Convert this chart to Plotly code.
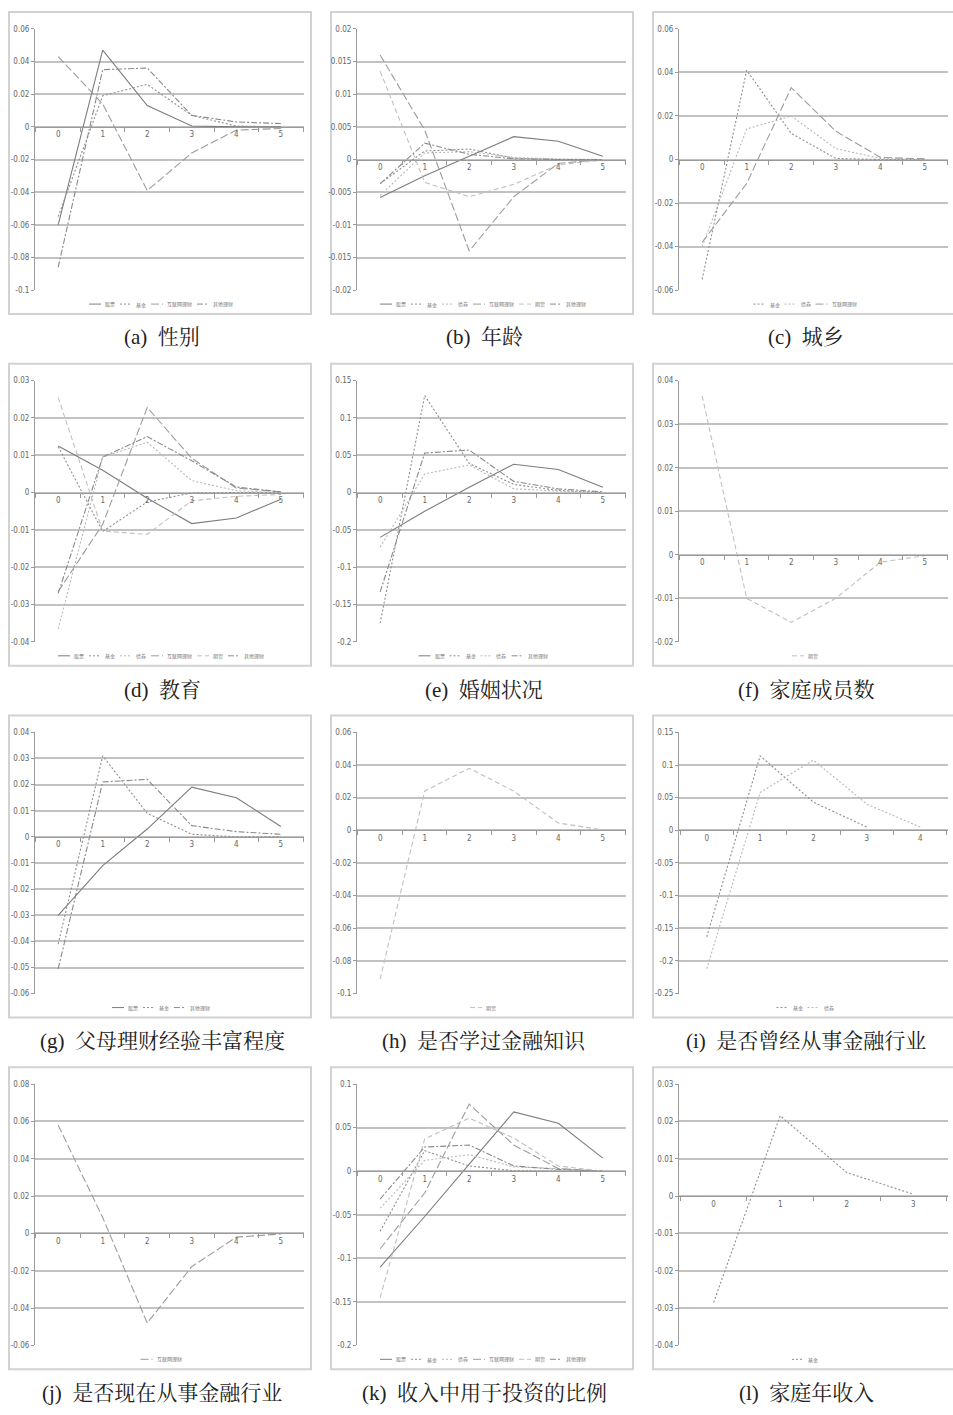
import plotly.graph_objects as go

W, H = 953, 1415

# ---------------- data ----------------
X6 = ["0", "1", "2", "3", "4", "5"]
X5 = ["0", "1", "2", "3", "4"]
X4 = ["0", "1", "2", "3"]

SERIES_NAMES = ["股票", "基金", "债券", "互联网理财", "期货", "其他理财"]

# (a) 性别
a_stock = [-0.060, 0.047, 0.013, 0.0005, 0.0, 0.0]
a_fund = [-0.055, 0.019, 0.026, 0.007, 0.0005, 0.0]
a_web = [0.043, 0.014, -0.039, -0.016, -0.002, -0.001]
a_other = [-0.086, 0.035, 0.036, 0.007, 0.003, 0.002]
a_yticks = ["-0.1", "-0.08", "-0.06", "-0.04", "-0.02", "0", "0.02", "0.04", "0.06"]

# (b) 年龄
b_stock = [-0.0058, -0.0025, 0.0005, 0.0035, 0.0028, 0.0005]
b_fund = [-0.0037, 0.0013, 0.0016, 0.0002, 0.0, 0.0]
b_bond = [-0.0055, 0.0010, 0.0012, 0.0003, 0.0001, 0.0]
b_web = [0.016, 0.0045, -0.014, -0.0057, -0.0006, 0.0]
b_fut = [0.0135, -0.0035, -0.0057, -0.0038, -0.0008, -0.0001]
b_other = [-0.0037, 0.0025, 0.0008, 0.0001, 0.0, 0.0]
b_yticks = ["-0.02", "-0.015", "-0.01", "-0.005", "0", "0.005", "0.01", "0.015", "0.02"]

# (c) 城乡
c_fund = [-0.055, 0.041, 0.012, 0.0005, 0.0, 0.0]
c_bond = [-0.040, 0.014, 0.020, 0.005, 0.0005, 0.0]
c_web = [-0.038, -0.011, 0.033, 0.013, 0.001, 0.0003]
c_yticks = ["-0.06", "-0.04", "-0.02", "0", "0.02", "0.04", "0.06"]

# (d) 教育
d_stock = [0.0125, 0.006, -0.0015, -0.0083, -0.0068, -0.0018]
d_fund = [0.0123, -0.0104, -0.0025, -0.0001, 0.0, 0.0]
d_bond = [-0.0365, 0.0095, 0.0135, 0.0032, 0.0005, 0.0]
d_web = [-0.0265, -0.0085, 0.0228, 0.0092, 0.0012, 0.0002]
d_fut = [0.0255, -0.0103, -0.0112, -0.0022, -0.0010, -0.0005]
d_other = [-0.0270, 0.0095, 0.0150, 0.0085, 0.0015, 0.0002]
d_yticks = ["-0.04", "-0.03", "-0.02", "-0.01", "0", "0.01", "0.02", "0.03"]

# (e) 婚姻状况
e_stock = [-0.060, -0.025, 0.007, 0.038, 0.031, 0.007]
e_fund = [-0.175, 0.130, 0.039, 0.011, 0.003, 0.0]
e_bond = [-0.073, 0.025, 0.037, 0.005, 0.002, 0.0]
e_other = [-0.133, 0.053, 0.057, 0.015, 0.005, 0.001]
e_yticks = ["-0.2", "-0.15", "-0.1", "-0.05", "0", "0.05", "0.1", "0.15"]

# (f) 家庭成员数
f_fut = [0.0365, -0.0100, -0.0155, -0.0100, -0.0017, -0.0002]
f_yticks = ["-0.02", "-0.01", "0", "0.01", "0.02", "0.03", "0.04"]

# (g) 父母理财经验丰富程度
g_stock = [-0.030, -0.011, 0.003, 0.019, 0.015, 0.004]
g_fund = [-0.041, 0.031, 0.009, 0.001, 0.0, 0.0]
g_other = [-0.0505, 0.021, 0.022, 0.0043, 0.002, 0.001]
g_yticks = ["-0.06", "-0.05", "-0.04", "-0.03", "-0.02", "-0.01", "0", "0.01", "0.02", "0.03", "0.04"]

# (h) 是否学过金融知识
h_fut = [-0.091, 0.024, 0.038, 0.024, 0.0045, 0.0002]
h_yticks = ["-0.1", "-0.08", "-0.06", "-0.04", "-0.02", "0", "0.02", "0.04", "0.06"]

# (i) 是否曾经从事金融行业
i_fund = [-0.163, 0.114, 0.043, 0.005]
i_bond = [-0.212, 0.058, 0.1075, 0.040, 0.005]
i_yticks = ["-0.25", "-0.2", "-0.15", "-0.1", "-0.05", "0", "0.05", "0.1", "0.15"]

# (j) 是否现在从事金融行业
j_web = [0.058, 0.0085, -0.048, -0.0178, -0.002, -0.0003]
j_yticks = ["-0.06", "-0.04", "-0.02", "0", "0.02", "0.04", "0.06", "0.08"]

# (k) 收入中用于投资的比例
k_stock = [-0.110, -0.052, 0.008, 0.068, 0.055, 0.015]
k_fund = [-0.069, 0.0235, 0.006, 0.0005, 0.0, 0.0]
k_bond = [-0.0425, 0.0125, 0.019, 0.005, 0.003, 0.0]
k_web = [-0.089, -0.025, 0.077, 0.030, 0.003, 0.0]
k_fut = [-0.145, 0.037, 0.061, 0.038, 0.006, 0.0]
k_other = [-0.032, 0.0277, 0.030, 0.006, 0.002, 0.0]
k_yticks = ["-0.2", "-0.15", "-0.1", "-0.05", "0", "0.05", "0.1"]

# (l) 家庭年收入
l_fund = [-0.0285, 0.0215, 0.0063, 0.0005]
l_yticks = ["-0.04", "-0.03", "-0.02", "-0.01", "0", "0.01", "0.02", "0.03"]

CAPTIONS = ["(a)  性别", "(b)  年龄", "(c)  城乡", "(d)  教育", "(e)  婚姻状况", "(f)  家庭成员数",
            "(g)  父母理财经验丰富程度", "(h)  是否学过金融知识", "(i)  是否曾经从事金融行业",
            "(j)  是否现在从事金融行业", "(k)  收入中用于投资的比例", "(l)  家庭年收入"]

PANELS = [
    (X6, a_yticks, [("股票", a_stock), ("基金", a_fund), ("互联网理财", a_web), ("其他理财", a_other)]),
    (X6, b_yticks, [("股票", b_stock), ("基金", b_fund), ("债券", b_bond), ("互联网理财", b_web), ("期货", b_fut), ("其他理财", b_other)]),
    (X6, c_yticks, [("基金", c_fund), ("债券", c_bond), ("互联网理财", c_web)]),
    (X6, d_yticks, [("股票", d_stock), ("基金", d_fund), ("债券", d_bond), ("互联网理财", d_web), ("期货", d_fut), ("其他理财", d_other)]),
    (X6, e_yticks, [("股票", e_stock), ("基金", e_fund), ("债券", e_bond), ("其他理财", e_other)]),
    (X6, f_yticks, [("期货", f_fut)]),
    (X6, g_yticks, [("股票", g_stock), ("基金", g_fund), ("其他理财", g_other)]),
    (X6, h_yticks, [("期货", h_fut)]),
    (X5, i_yticks, [("基金", i_fund), ("债券", i_bond)]),
    (X6, j_yticks, [("互联网理财", j_web)]),
    (X6, k_yticks, [("股票", k_stock), ("基金", k_fund), ("债券", k_bond), ("互联网理财", k_web), ("期货", k_fut), ("其他理财", k_other)]),
    (X4, l_yticks, [("基金", l_fund)]),
]

# ---------------- styles ----------------
STYLE = {
    "股票": ("#7c7c7c", "solid"),
    "基金": ("#8e8e8e", "2px,2px"),
    "债券": ("#b8b8b8", "2px,2px"),
    "互联网理财": ("#9c9c9c", "8px,3px"),
    "期货": ("#c0c0c0", "5px,3px"),
    "其他理财": ("#8a8a8a", "6px,2px,2px,2px"),
}

PX = [9, 331, 653]
PY = [8, 362, 716, 1070]
PANEL_W, PANEL_H = 302, 304
TICKFONT = dict(family="Liberation Sans Narrow, DejaVu Sans Condensed, sans-serif", size=8, color="#666666")
AXCOL = "#9a9a9a"
GRIDCOL = "#c2c2c2"


def fx(px):
    return px / W


def fy(py):
    return 1 - py / H


fig = go.Figure()
layout = {}
shapes = []
annotations = []

for idx, (cats, yt, series) in enumerate(PANELS):
    k = idx + 1
    sfx = "" if k == 1 else str(k)
    col, row = idx % 3, idx // 3
    px0, py0 = PX[col], PY[row]
    x0, x1 = px0 + 26, px0 + 295
    ytop, ybot = py0 + 17, py0 + 280
    tickvals = [float(t) for t in yt]
    ymin, ymax = tickvals[0], tickvals[-1]
    dy = [fy(ybot), fy(ytop)]
    zero_pos = dy[0] + (0 - ymin) / (ymax - ymin) * (dy[1] - dy[0])
    n = len(cats)

    layout["xaxis" + sfx] = dict(
        domain=[fx(x0), fx(x1)], anchor="free", position=zero_pos,
        type="category", categoryorder="array", categoryarray=cats,
        range=[-0.52, n - 0.48], showgrid=False, zeroline=False,
        showline=True, linecolor=AXCOL, linewidth=1,
        ticks="outside", tickson="boundaries", ticklen=4, tickcolor=AXCOL,
        tickfont=TICKFONT, fixedrange=True,
    )
    layout["yaxis" + sfx] = dict(
        domain=dy, anchor="x" + sfx, range=[ymin, ymax],
        tickmode="array", tickvals=tickvals, ticktext=yt,
        showgrid=True, gridcolor=GRIDCOL, gridwidth=2, zeroline=False,
        showline=True, linecolor=AXCOL, linewidth=1,
        ticks="outside", ticklen=3, tickcolor=AXCOL,
        tickfont=TICKFONT, fixedrange=True,
    )

    for name, vals in series:
        color, dash = STYLE[name]
        fig.add_trace(go.Scatter(
            x=cats[:len(vals)], y=vals, mode="lines", name=name,
            line=dict(color=color, dash=dash, width=1.1),
            xaxis="x" + sfx, yaxis="y" + sfx, showlegend=False, hoverinfo="skip",
        ))

    # panel frame
    shapes.append(dict(type="rect", xref="paper", yref="paper",
                       x0=fx(px0), x1=fx(px0 + PANEL_W), y0=fy(py0 + PANEL_H), y1=fy(py0),
                       line=dict(color="#d2d2d2", width=2), fillcolor="rgba(0,0,0,0)", layer="below"))

    # manual legend (small)
    lfs = 5
    widths = [12 + 2 + len(nm) * lfs for nm, _ in series]
    gap = 7
    total = sum(widths) + gap * (len(widths) - 1)
    sx = px0 + PANEL_W / 2 - total / 2
    ly = py0 + 294
    for (nm, _), w in zip(series, widths):
        color, dash = STYLE[nm]
        shapes.append(dict(type="line", xref="paper", yref="paper",
                           x0=fx(sx), x1=fx(sx + 12), y0=fy(ly), y1=fy(ly),
                           line=dict(color=color, dash=dash, width=1)))
        annotations.append(dict(xref="paper", yref="paper", x=fx(sx + 14), y=fy(ly),
                                xanchor="left", yanchor="middle", showarrow=False, text=nm,
                                font=dict(family="Noto Sans CJK SC", size=lfs, color="#777777")))
        sx += w + gap

    # caption
    cap_y = [335, 690, 1044, 1398][row]
    annotations.append(dict(xref="paper", yref="paper", x=fx(px0 + PANEL_W / 2 + 2), y=fy(cap_y),
                            xanchor="center", yanchor="middle", showarrow=False, text=CAPTIONS[idx],
                            font=dict(family="Liberation Serif, Noto Serif CJK SC, Noto Sans CJK SC",
                                      size=21, color="#222222")))

fig.update_layout(
    width=W, height=H, autosize=False,
    margin=dict(l=0, r=0, t=0, b=0),
    paper_bgcolor="white", plot_bgcolor="white",
    showlegend=False, shapes=shapes, annotations=annotations,
    **layout,
)

fig.write_html("out.html",
               config={"displayModeBar": False, "staticPlot": True},
               post_script="document.body.style.margin='0';document.body.style.padding='0';"
                           "document.documentElement.style.overflow='hidden';")
